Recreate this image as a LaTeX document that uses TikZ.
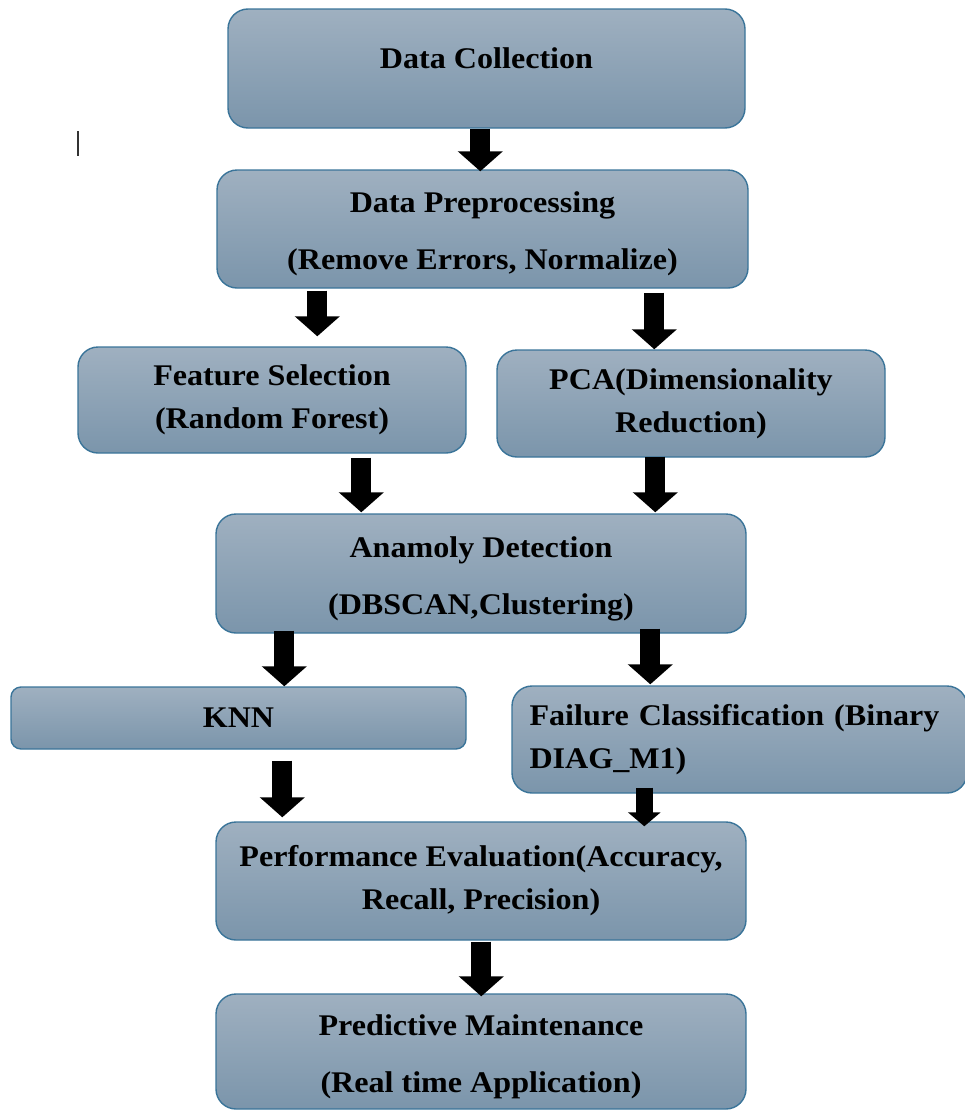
\documentclass[tikz,border=0pt]{standalone}
\usepackage{fontspec}
\setmainfont{Liberation Serif}[FakeStretch=1.07]
\usetikzlibrary{calc,arrows.meta}
\definecolor{boxtop}{RGB}{159,176,192}
\definecolor{boxbot}{RGB}{123,149,171}
\definecolor{boxline}{RGB}{58,116,153}
\newcommand\toppad{\rule{0pt}{31pt}}
\tikzset{stage/.style={draw=boxline,line width=1.4pt,rounded corners=20pt,top color=boxtop,bottom color=boxbot,
    font=\fontsize{30}{43}\selectfont\bfseries,align=center,inner sep=0pt},
  airy/.style={font=\fontsize{30}{57}\selectfont\bfseries},
  flow/.style={line width=20pt,-{Triangle[width=44pt,length=20pt]}},
  thinflow/.style={line width=17pt,-{Triangle[width=32pt,length=14pt]}}}

\begin{document}
\begin{tikzpicture}[x=1pt,y=-1pt]
\useasboundingbox (0,0) rectangle (965,1111);
\node[stage,minimum width=517pt,minimum height=119pt,text depth=21pt] (collect) at (486.5,68.5) {Data Collection};
\node[stage,airy,minimum width=531pt,minimum height=118pt] (prep) at (482.5,229) {\toppad Data Preprocessing\\(Remove Errors, Normalize)};
\node[stage,minimum width=388pt,minimum height=106pt] (feat) at (272,400) {Feature Selection\\(Random Forest)};
\node[stage,minimum width=388pt,minimum height=107pt] (pca) at (691,403.5) {PCA(Dimensionality\\Reduction)};
\node[stage,airy,minimum width=530pt,minimum height=119pt] (anom) at (481,573.5) {\toppad Anamoly Detection\\(DBSCAN,Clustering)};
\node[stage,rounded corners=10pt,minimum width=455pt,minimum height=62pt] (knn) at (238.5,718) {KNN};
\node[stage,minimum width=455pt,minimum height=107pt,text width=420pt,align=left] (fail) at (739.5,739.5) {Failure Classification (Binary\\DIAG\_M1)};
\node[stage,minimum width=530pt,minimum height=118pt] (perf) at (481,881) {Performance Evaluation(Accuracy,\\Recall, Precision)};
\node[stage,airy,minimum width=530pt,minimum height=115pt] (pred) at (481,1051.5) {\toppad Predictive Maintenance\\(Real time Application)};
\draw[flow] ($(collect.south west)+(253,0)$) -- ($(prep.north west)+(264,2)$);
\draw[flow] ($(prep.south west)+(101,2)$) -- ($(feat.north west)+(240,-10)$);
\draw[flow] ($(prep.south west)+(438,4)$) -- ($(pca.north west)+(158,0)$);
\draw[flow] ($(feat.south west)+(284,4)$) -- ($(anom.north west)+(146,-1)$);
\draw[flow] ($(pca.south west)+(159,-1)$) -- ($(anom.north west)+(440,-1)$);
\draw[flow] ($(anom.south west)+(69,-3)$) -- ($(knn.north west)+(274,0)$);
\draw[flow] ($(anom.south west)+(435,-5)$) -- ($(fail.north west)+(139,-1)$);
\draw[flow] ($(knn.south west)+(272,11)$) -- ($(perf.north west)+(67,-4)$);
\draw[thinflow] ($(fail.south west)+(133,-6)$) -- ($(perf.north west)+(429,5)$);
\draw[flow] ($(perf.south west)+(266,1)$) -- ($(pred.north west)+(266,3)$);
\draw[line width=1.6pt,black!80] (78,131) -- (78,156);
\end{tikzpicture}
\end{document}
